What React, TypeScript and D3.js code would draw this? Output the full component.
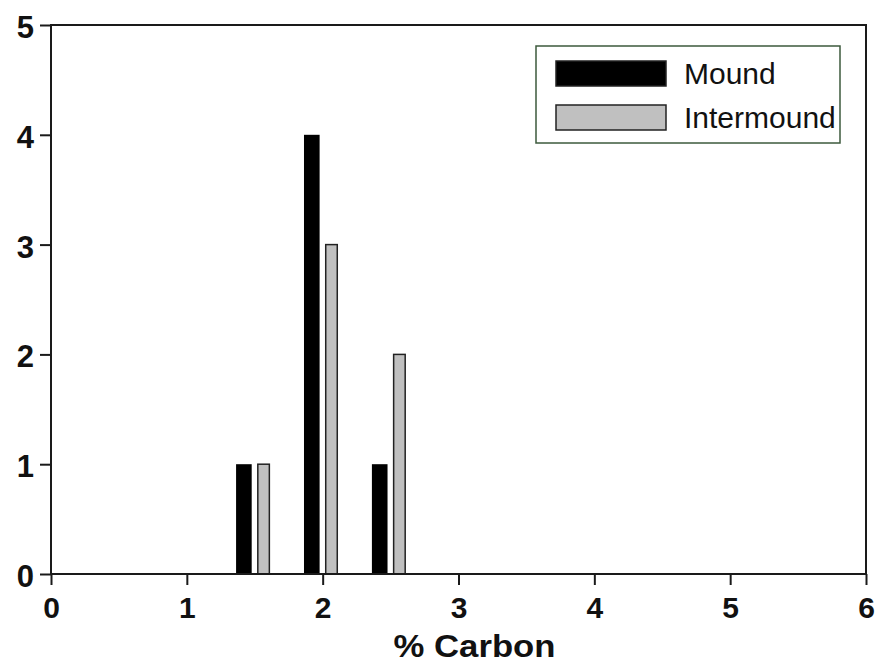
import { useEffect, useRef } from "react";
import * as d3 from "d3";

// bin centres (% carbon) and counts per series
const bins = [1.5, 2, 2.5];
const mound = [1, 4, 1];
const intermound = [1, 3, 2];
const xTicks = [0, 1, 2, 3, 4, 5, 6];
const yTicks = [0, 1, 2, 3, 4, 5];
const seriesNames = ["Mound", "Intermound"];

const W = 875;
const H = 668;

export default function App() {
  const ref = useRef<SVGSVGElement>(null);

  useEffect(() => {
    if (!ref.current) return;
    const svg = d3.select(ref.current);
    svg.selectAll("*").remove();

    const m = { left: 51, right: 9, top: 25, bottom: 94 };
    const x = d3.scaleLinear().domain([0, 6]).range([m.left, W - m.right]);
    const y = d3.scaleLinear().domain([0, 5]).range([H - m.bottom, m.top]);
    const font = "'Liberation Sans', Arial, sans-serif";
    const axisColor = "#1a1a1a";

    svg.append("rect").attr("width", W).attr("height", H).attr("fill", "#fff");

    // bars
    const moundW = 0.115;
    const interW = 0.085;
    const g = svg.append("g");
    g.selectAll("rect.m")
      .data(bins.map((b, i) => ({ b, v: mound[i] })))
      .join("rect")
      .attr("class", "m")
      .attr("x", (d) => x(d.b - 0.08 - moundW / 2))
      .attr("width", x(moundW) - x(0))
      .attr("y", (d) => y(d.v))
      .attr("height", (d) => y(0) - y(d.v))
      .attr("fill", "#000");

    g.selectAll("rect.i")
      .data(bins.map((b, i) => ({ b, v: intermound[i] })))
      .join("rect")
      .attr("class", "i")
      .attr("x", (d) => x(d.b + 0.065 - interW / 2))
      .attr("width", x(interW) - x(0))
      .attr("y", (d) => y(d.v))
      .attr("height", (d) => y(0) - y(d.v))
      .attr("fill", "#c0c0c0")
      .attr("stroke", "#222")
      .attr("stroke-width", 1.5);

    // frame
    svg.append("rect")
      .attr("x", x(0))
      .attr("y", y(5))
      .attr("width", x(6) - x(0))
      .attr("height", y(0) - y(5))
      .attr("fill", "none")
      .attr("stroke", axisColor)
      .attr("stroke-width", 2);

    // x axis
    const xa = svg.append("g")
      .attr("transform", `translate(0,${y(0)})`)
      .call(d3.axisBottom(x).tickValues(xTicks).tickSize(11).tickSizeOuter(0).tickFormat(d3.format("d")));
    xa.select(".domain").remove();
    xa.selectAll("line").attr("stroke", axisColor).attr("stroke-width", 2);
    xa.selectAll("text")
      .attr("font-family", font)
      .attr("font-size", 30)
      .attr("font-weight", "bold")
      .attr("fill", "#111")
      .attr("y", 23)
      .attr("dy", "0.71em");

    // y axis
    const ya = svg.append("g")
      .attr("transform", `translate(${x(0)},0)`)
      .call(d3.axisLeft(y).tickValues(yTicks).tickSize(11).tickSizeOuter(0).tickFormat(d3.format("d")));
    ya.select(".domain").remove();
    ya.selectAll("line").attr("stroke", axisColor).attr("stroke-width", 2);
    ya.selectAll("text")
      .attr("font-family", font)
      .attr("font-size", 31)
      .attr("font-weight", "bold")
      .attr("fill", "#111")
      .attr("x", -17)
      .attr("dy", "0.4em");

    // axis title
    svg.append("text")
      .attr("transform", `translate(${(x(0) + x(6)) / 2 + 16},${H - 11}) scale(1.12,1)`)
      .attr("text-anchor", "middle")
      .attr("font-family", font)
      .attr("font-size", 31)
      .attr("font-weight", "bold")
      .attr("fill", "#111")
      .text("% Carbon");

    // legend
    const lg = svg.append("g").attr("transform", "translate(536,46)");
    lg.append("rect")
      .attr("width", 304)
      .attr("height", 97)
      .attr("fill", "#fff")
      .attr("stroke", "#3d5a3d")
      .attr("stroke-width", 1.5);
    const fills = ["#000", "#c0c0c0"];
    seriesNames.forEach((name, i) => {
      const row = lg.append("g").attr("transform", `translate(0,${i * 44})`);
      row.append("rect")
        .attr("x", 20)
        .attr("y", 15)
        .attr("width", 110)
        .attr("height", 25)
        .attr("fill", fills[i])
        .attr("stroke", "#222")
        .attr("stroke-width", 1.5);
      row.append("text")
        .attr("x", 148)
        .attr("y", 38)
        .attr("font-family", font)
        .attr("font-size", 30)
        .attr("fill", "#111")
        .text(name);
    });
  }, []);

  return (
    <svg
      ref={ref}
      width={W}
      height={H}
      style={{ position: "absolute", left: 0, top: 0, display: "block" }}
    />
  );
}
